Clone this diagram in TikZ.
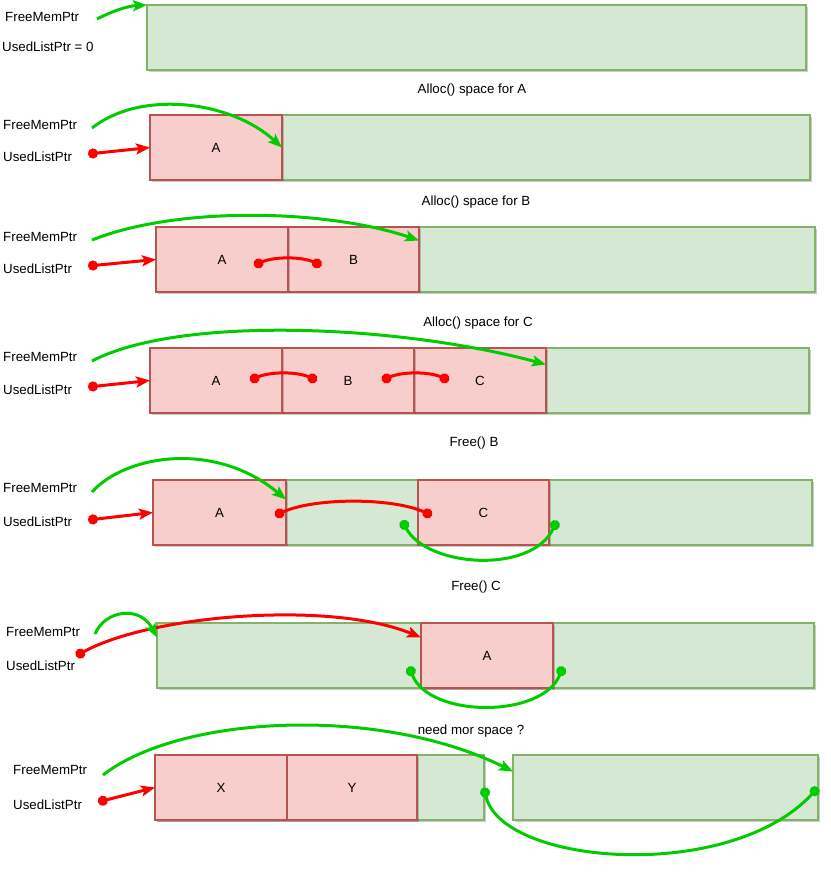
\documentclass[tikz,border=0pt]{standalone}
\usepackage{fontspec}
\setmainfont{Liberation Sans}
\usetikzlibrary{arrows.meta, calc, shadows}

\definecolor{freefill}{HTML}{D5E8D4}
\definecolor{freeline}{HTML}{82B366}
\definecolor{usedfill}{HTML}{F8CECC}
\definecolor{usedline}{HTML}{B85450}
\definecolor{freearrow}{HTML}{00CC00}
\definecolor{usedarrow}{HTML}{FF0000}

\begin{document}
\begin{tikzpicture}[x=1pt, y=-1pt,
    every node/.style={font=\fontsize{13.3}{16}\selectfont},
    blk/.style={draw, line width=1.1pt, minimum height=65pt, inner sep=0pt, outer sep=0pt, anchor=north west,
      drop shadow={shadow xshift=2pt, shadow yshift=-2pt, opacity=0.2, fill=black}},
    freeblk/.style={blk, fill=freefill, draw=freeline},
    usedblk/.style={blk, fill=usedfill, draw=usedline},
    ptrname/.style={anchor=west, inner sep=0pt},
    steptitle/.style={inner sep=0pt},
    freeptr/.style={draw=freearrow, line width=3pt, -{Stealth[length=14pt, width=11pt, inset=3pt]}},
    usedptr/.style={draw=usedarrow, line width=3pt, {Circle[length=10pt, width=10pt]}-{Stealth[length=14pt, width=11pt, inset=3pt]}},
    usedlink/.style={draw=usedarrow, line width=3pt, {Circle[length=10pt, width=10pt]}-{Circle[length=10pt, width=10pt]}},
    freelink/.style={draw=freearrow, line width=3pt, {Circle[length=10pt, width=10pt]}-{Circle[length=10pt, width=10pt]}}]

    \useasboundingbox (0,0) rectangle (830,883);

    \node[ptrname] (fm1) at (5,17) {FreeMemPtr};
    \node[ptrname] (ul1) at (2,47) {UsedListPtr = 0};
    \node[freeblk, minimum width=659pt] (f1) at (147,5) {};
    \coordinate (fs1) at (97,19);
    \draw[freeptr] (fs1) .. controls (115,10) and (128,6) .. (f1.north west);

    \node[steptitle] (t2) at (472,90) {Alloc() space for A};
    \node[ptrname] (fm2) at (3,125) {FreeMemPtr};
    \node[ptrname] (ul2) at (3,157) {UsedListPtr};
    \node[freeblk, minimum width=528pt] (f2) at (282,115) {};
    \node[usedblk, anchor=north east, minimum width=132pt] (a2) at (f2.north west) {A};
    \coordinate (fs2) at (92,128);
    \coordinate (us2) at (88,154);
    \draw[usedptr] (us2) -- (a2.west);
    \draw[freeptr] (fs2) .. controls (140,90) and (230,100) .. (f2.west);

    \node[steptitle] (t3) at (476,202) {Alloc() space for B};
    \node[ptrname] (fm3) at (3,237) {FreeMemPtr};
    \node[ptrname] (ul3) at (3,269) {UsedListPtr};
    \node[freeblk, minimum width=396pt] (f3) at (419,227) {};
    \node[usedblk, anchor=north east, minimum width=131pt] (b3) at (f3.north west) {B};
    \node[usedblk, anchor=north east, minimum width=132pt] (a3) at (b3.north west) {A};
    \coordinate (fs3) at (92,240);
    \coordinate (us3) at (88,266);
    \draw[usedptr] (us3) -- (a3.west);
    \draw[freeptr] (fs3) .. controls (180,205) and (330,210) .. ([yshift=19pt]f3.west);
    \draw[usedlink] ([shift={(32pt,-6pt)}]a3.center) .. controls +(20pt,9pt) and +(-20pt,9pt) .. ([shift={(-32pt,-6pt)}]b3.center);

    \node[steptitle] (t4) at (478,323) {Alloc() space for C};
    \node[ptrname] (fm4) at (3,357) {FreeMemPtr};
    \node[ptrname] (ul4) at (3,390) {UsedListPtr};
    \node[freeblk, minimum width=263pt] (f4) at (546,348) {};
    \node[usedblk, anchor=north east, minimum width=132pt] (c4) at (f4.north west) {C};
    \node[usedblk, anchor=north east, minimum width=132pt] (b4) at (c4.north west) {B};
    \node[usedblk, anchor=north east, minimum width=132pt] (a4) at (b4.north west) {A};
    \coordinate (fs4) at (92,361);
    \coordinate (us4) at (88,387);
    \draw[usedptr] (us4) -- (a4.west);
    \draw[freeptr] (fs4) .. controls (180,315) and (400,325) .. ([yshift=16pt]f4.west);
    \draw[usedlink] ([xshift=34pt]a4.center) .. controls +(20pt,9pt) and +(-20pt,9pt) .. ([xshift=-31pt]b4.center);
    \draw[usedlink] ([xshift=34pt]b4.center) .. controls +(20pt,9pt) and +(-20pt,9pt) .. ([xshift=-31pt]c4.center);

    \node[steptitle] (t5) at (474,443) {Free() B};
    \node[ptrname] (fm5) at (3,488) {FreeMemPtr};
    \node[ptrname] (ul5) at (3,522) {UsedListPtr};
    \node[freeblk, minimum width=132pt] (f5a) at (286,480) {};
    \node[freeblk, minimum width=263pt] (f5b) at (549,480) {};
    \node[usedblk, anchor=north east, minimum width=133pt] (a5) at (f5a.north west) {A};
    \node[usedblk, minimum width=131pt] (c5) at (f5a.north east) {C};
    \coordinate (fs5) at (92,492);
    \coordinate (us5) at (88,520);
    \draw[usedptr] (us5) -- (a5.west);
    \draw[freeptr] (fs5) .. controls (125,455) and (215,440) .. ([yshift=13pt]f5a.west);
    \draw[usedlink] ([shift={(-11pt,-3pt)}]a5.east) .. controls +(40pt,18pt) and +(-40pt,18pt) .. ([shift={(14pt,-3pt)}]c5.west);
    \draw[freelink] ([shift={(-16pt,-8pt)}]f5a.east) .. controls +(25pt,-47pt) and +(-25pt,-54pt) .. ([shift={(8pt,-8pt)}]f5b.west);

    \node[steptitle] (t6) at (476,587) {Free() C};
    \node[ptrname] (fm6) at (6,632) {FreeMemPtr};
    \node[ptrname] (ul6) at (6,666) {UsedListPtr};
    \node[freeblk, minimum width=657pt] (f6) at (157,623) {};
    \node[usedblk, minimum width=132pt] (a6) at (421,623) {A};
    \coordinate (fs6) at (95,634);
    \coordinate (us6) at (76,656);
    \draw[usedptr] (us6) .. controls (150,615) and (330,600) .. ([yshift=18pt]a6.west);
    \draw[freeptr] (fs6) .. controls (105,610) and (140,605) .. ([yshift=18pt]f6.west);
    \draw[freelink] ([shift={(-12pt,-11pt)}]a6.west) .. controls +(20pt,-52pt) and +(-20pt,-52pt) .. ([shift={(10pt,-11pt)}]a6.east);

    \node[steptitle] (t7) at (471,731) {need mor space ?};
    \node[ptrname] (fm7) at (13,770) {FreeMemPtr};
    \node[ptrname] (ul7) at (13,805) {UsedListPtr};
    \node[freeblk, minimum width=329pt] (f7a) at (155,755) {};
    \node[freeblk, minimum width=305pt] (f7b) at (513,755) {};
    \node[usedblk, minimum width=132pt] (x7) at (155,755) {X};
    \node[usedblk, minimum width=130pt] (y7) at (x7.north east) {Y};
    \coordinate (fs7) at (103,775);
    \coordinate (us7) at (98,802);
    \draw[usedptr] (us7) -- (x7.west);
    \draw[freeptr] (fs7) .. controls (180,715) and (380,705) .. ([yshift=16pt]f7b.west);
    \draw[freelink] (f7a.east) .. controls +(17pt,-78pt) and +(-88pt,-96pt) .. (f7b.east);
  \end{tikzpicture}
\end{document}
